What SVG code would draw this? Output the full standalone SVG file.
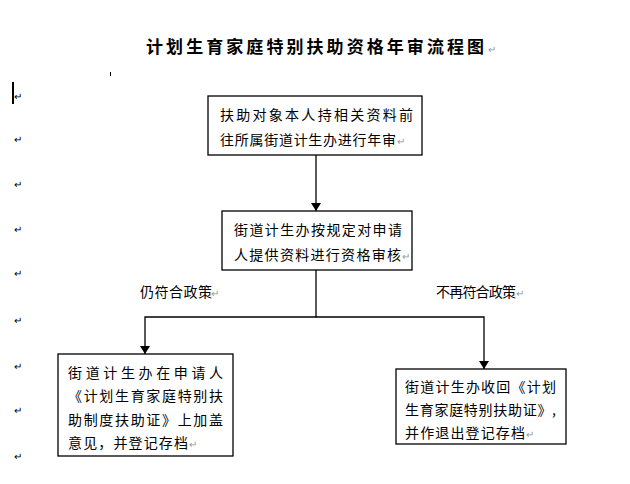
<svg xmlns="http://www.w3.org/2000/svg" width="630" height="484" viewBox="0 0 630 484">
<style>
text{font-family:"Noto Sans CJK SC","Liberation Sans",sans-serif;fill:#000}
.t{font-size:14px}
.m{font-size:10px;fill:#999}
.b{fill:#fff;stroke:#000;stroke-width:1.3}
.c{fill:none;stroke:#000;stroke-width:1.3}
</style>
<defs><marker id="a" markerWidth="8" markerHeight="10" refX="8" refY="5" orient="auto" markerUnits="userSpaceOnUse"><path d="M0,0L8,5L0,10Z" fill="#000"/></marker></defs>
<rect width="630" height="484" fill="#fff"/>
<text x="315" y="53" text-anchor="middle" font-size="17" font-weight="bold" textLength="338">计划生育家庭特别扶助资格年审流程图</text>
<text class="m" x="488" y="53">↵</text>
<rect x="12" y="82" width="2" height="22" fill="#000"/>
<rect x="110" y="72" width="1" height="4" fill="#000"/>
<g class="m">
<text x="14" y="100">↵</text><text x="14" y="143">↵</text><text x="14" y="188">↵</text><text x="14" y="233">↵</text><text x="14" y="277">↵</text><text x="14" y="324">↵</text><text x="14" y="370">↵</text><text x="14" y="414">↵</text><text x="14" y="460">↵</text>
</g>
<g id="connectors">
<line class="c" x1="316" y1="154" x2="316" y2="211" marker-end="url(#a)"/>
<polyline class="c" points="316,269 316,317 145,317 145,354" marker-end="url(#a)"/>
<polyline class="c" points="316,317 484,317 484,369" marker-end="url(#a)"/>
</g>
<g id="l1"><text class="t" x="140" y="297" textLength="72">仍符合政策</text><text class="m" x="211" y="297">↵</text></g>
<g id="l2"><text class="t" x="436" y="297" textLength="80">不再符合政策</text><text class="m" x="516" y="297">↵</text></g>
<g id="n1"><rect class="b" x="208" y="96" width="214" height="59"/>
<text class="t" x="220" y="120" textLength="193">扶助对象本人持相关资料前</text>
<text class="t" x="220" y="145" textLength="176">往所属街道计生办进行年审</text><text class="m" x="397" y="145">↵</text></g>
<g id="n2"><rect class="b" x="222" y="211" width="190" height="59"/>
<text class="t" x="234" y="235" textLength="168">街道计生办按规定对申请</text>
<text class="t" x="234" y="260" textLength="167">人提供资料进行资格审核</text><text class="m" x="402" y="260">↵</text></g>
<g id="n3"><rect class="b" x="58" y="354" width="175" height="102"/>
<text class="t" x="68" y="378" textLength="155">街道计生办在申请人</text>
<text class="t" x="68" y="401" textLength="155">《计划生育家庭特别扶</text>
<text class="t" x="68" y="425" textLength="155">助制度扶助证》上加盖</text>
<text class="t" x="68" y="448" textLength="120">意见，并登记存档</text><text class="m" x="189" y="448">↵</text></g>
<g id="n4"><rect class="b" x="396" y="369" width="170" height="75"/>
<text class="t" x="405" y="392" textLength="151">街道计生办收回《计划</text>
<text class="t" x="405" y="415" textLength="151">生育家庭特别扶助证》,</text>
<text class="t" x="405" y="438" textLength="120">并作退出登记存档</text><text class="m" x="526" y="438">↵</text></g>
</svg>
